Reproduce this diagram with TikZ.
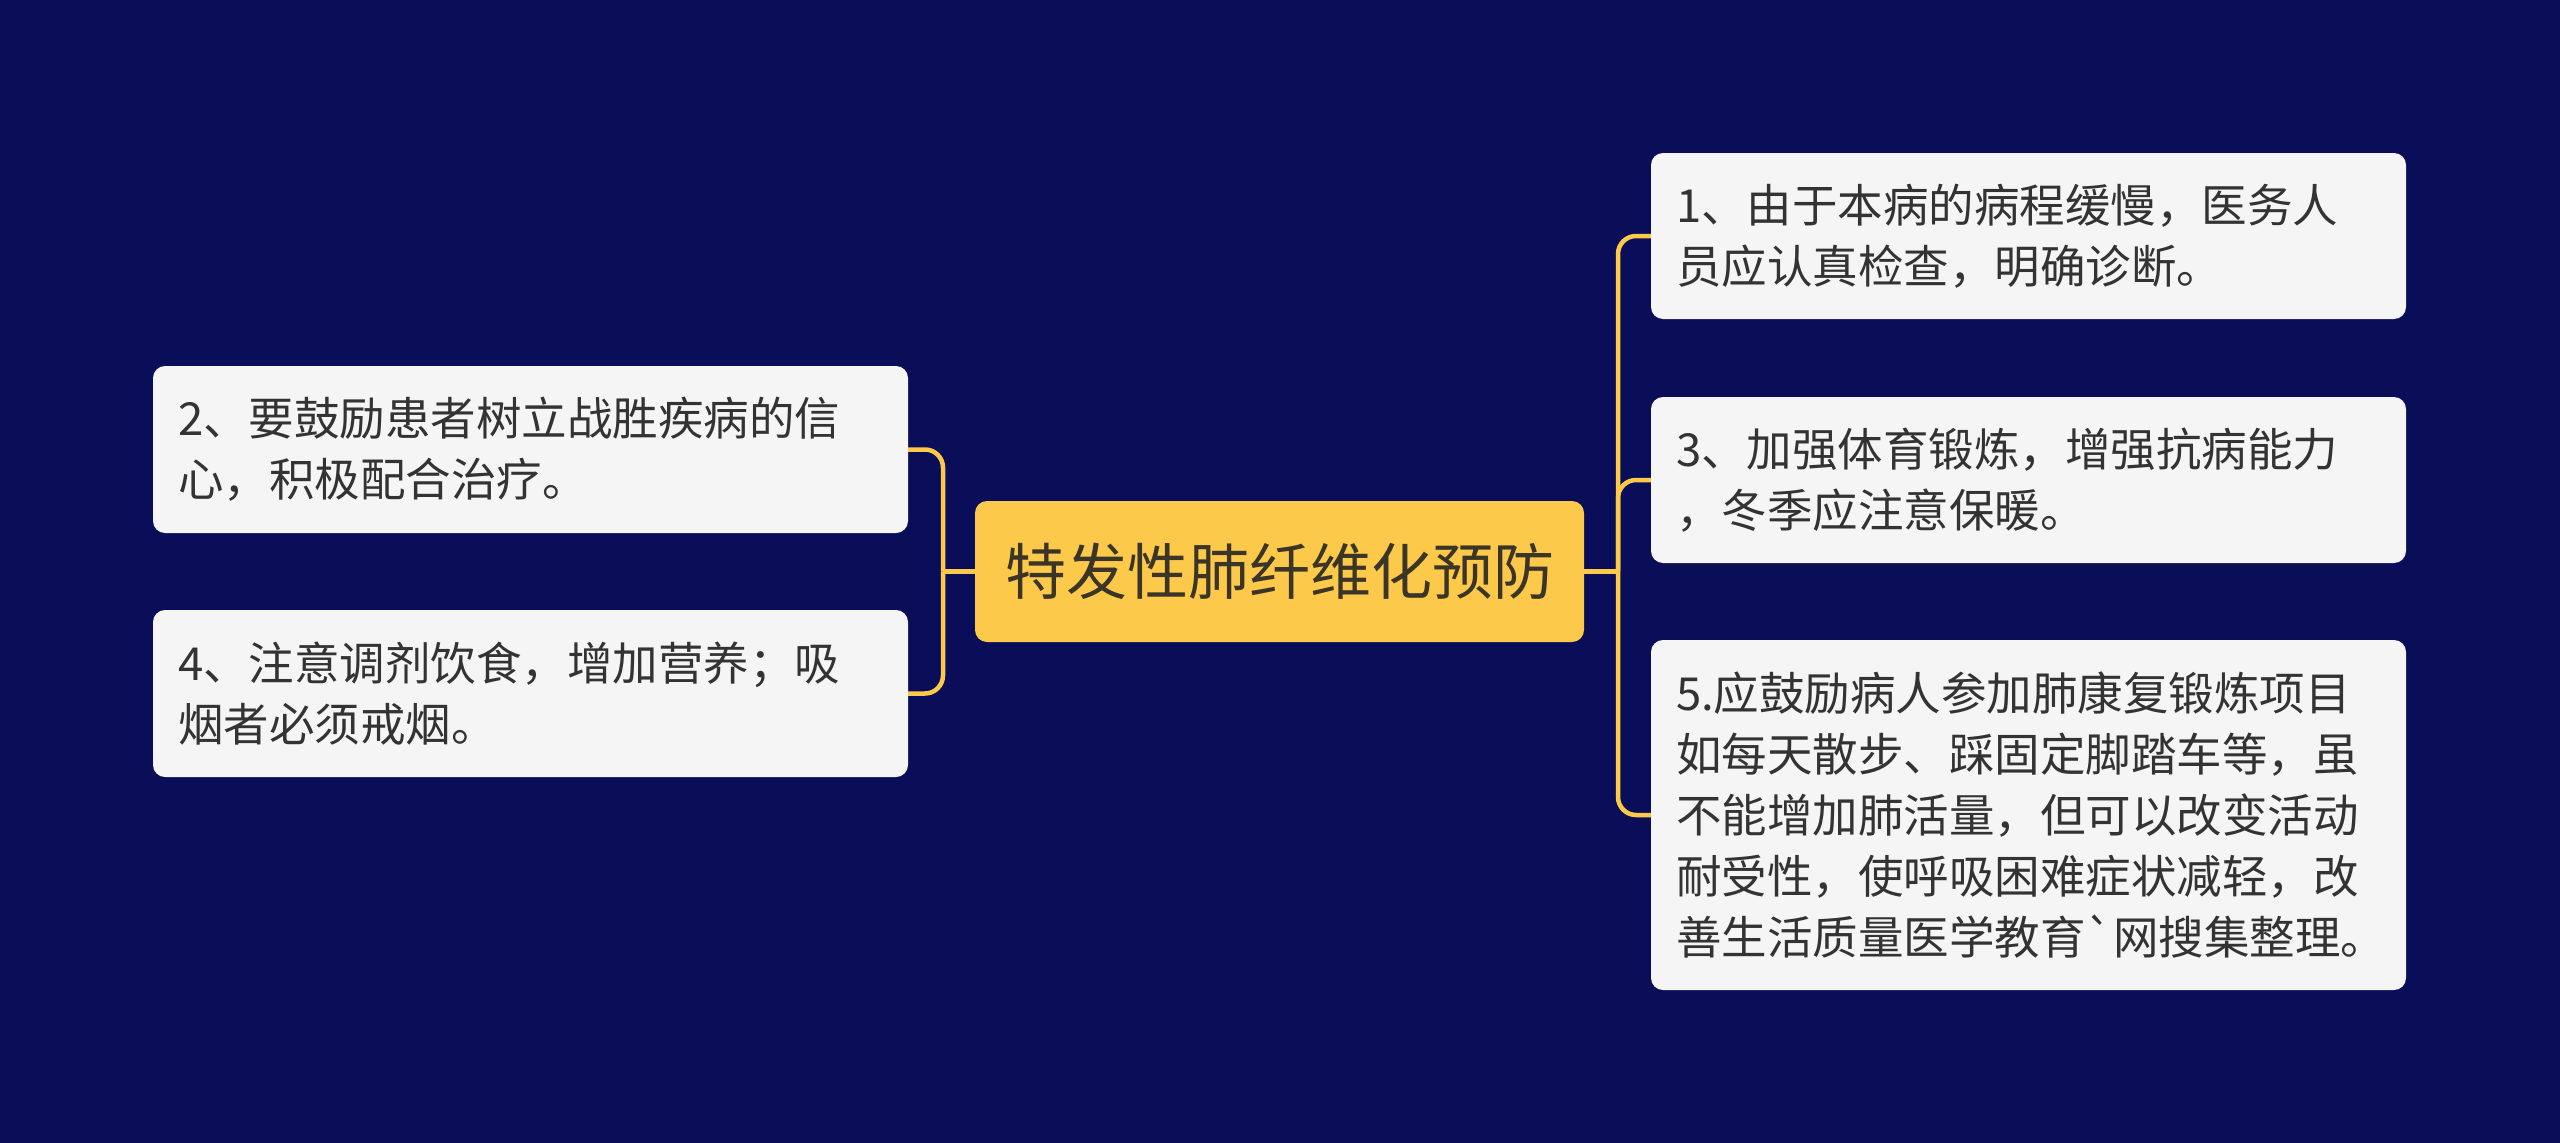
\documentclass[tikz,border=0pt]{standalone}
\usepackage{fontspec}
\setmainfont{Noto Sans CJK SC}
\newfontfamily\plaincjk{Noto Sans CJK SC}
\definecolor{bgnavy}{HTML}{0A0E58}
\definecolor{ylw}{HTML}{FDC94A}
\definecolor{boxgray}{HTML}{F5F5F5}
\definecolor{txt}{HTML}{333333}
\definecolor{ctxt}{HTML}{3A3526}
\tikzset{
  leaf/.style={rectangle, rounded corners=12pt, fill=boxgray, text=txt,
    minimum width=755pt, text width=705pt, inner xsep=25pt, align=left,
    font=\fontsize{45.5}{61}\selectfont},
  rootbox/.style={rectangle, rounded corners=12pt, fill=ylw, text=ctxt,
    minimum width=609pt, minimum height=141pt, inner sep=0pt,
    font=\fontsize{61}{70}\selectfont},
  conn/.style={draw=ylw, line width=4.5pt, rounded corners=18pt}
}
\begin{document}
\begin{tikzpicture}[x=1pt,y=-1pt]
\fill[bgnavy] (0,0) rectangle (2560,1143);
\useasboundingbox (0,0) rectangle (2560,1143);

\node[rootbox] (c) at (1279.5,571.5) {特发性肺纤维化预防};

\node[leaf, minimum height=166pt] (r1) at (2028.5,236)
  {1、由于本病的病程缓慢，医务人\\员应认真检查，明确诊断。};
\node[leaf, minimum height=166pt] (r2) at (2028.5,480)
  {3、加强体育锻炼，增强抗病能力\\，冬季应注意保暖。};
\node[leaf, minimum height=350pt] (r3) at (2028.5,815)
  {5.应鼓励病人参加肺康复锻炼项目\\如每天散步、踩固定脚踏车等，虽\\不能增加肺活量，但可以改变活动\\耐受性，使呼吸困难症状减轻，改\\善生活质量医学教育{\plaincjk `}网搜集整理。};

\node[leaf, minimum height=167pt] (l2) at (530.5,449.5)
  {2、要鼓励患者树立战胜疾病的信\\心，积极配合治疗。};
\node[leaf, minimum height=167pt] (l4) at (530.5,693.5)
  {4、注意调剂饮食，增加营养；吸\\烟者必须戒烟。};

\coordinate (rj) at (1618,571.5);
\coordinate (lj) at (943,571.5);

\draw[conn] (c.east) -- (rj);
\draw[conn] (rj) |- (r1.west);
\draw[conn] (rj) |- (r2.west);
\draw[conn] (rj) |- (r3.west);

\draw[conn] (c.west) -- (lj);
\draw[conn] (lj) |- (l2.east);
\draw[conn] (lj) |- (l4.east);
\end{tikzpicture}
\end{document}
